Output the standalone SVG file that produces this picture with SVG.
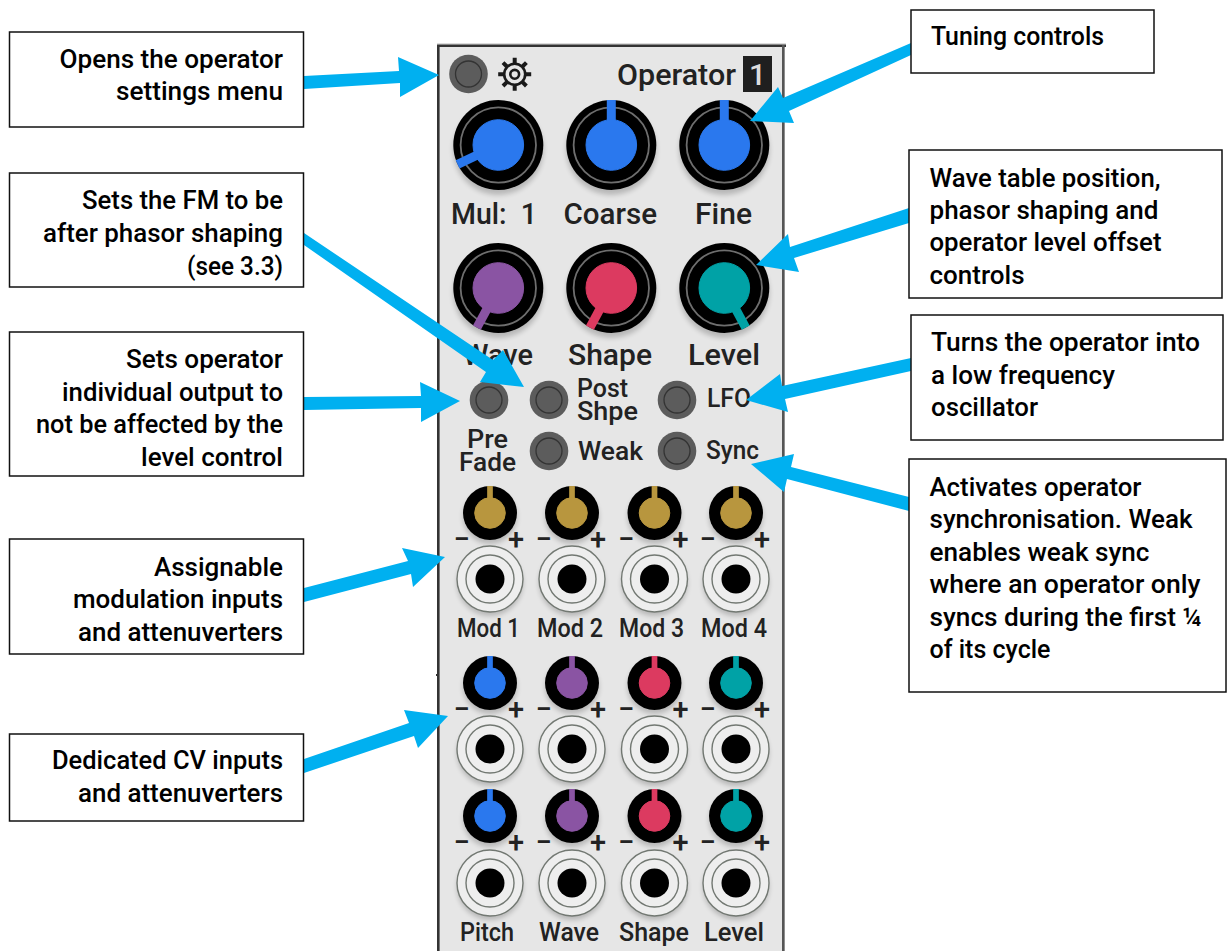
<svg xmlns="http://www.w3.org/2000/svg" width="1227" height="951" viewBox="0 0 1227 951">
<style>
text{font-family:Roboto,"Liberation Sans",sans-serif;font-weight:500}
.c{font-size:26px;fill:#000}
.p{font-size:30px;fill:#222}
.q{font-size:25px;fill:#222}
.s{font-size:29px;fill:#222;text-anchor:middle}
.m{text-anchor:middle}
.e{text-anchor:end}
.box{fill:#fff;stroke:#111;stroke-width:1.5}
.arrow{fill:#00b0f0}
.ring{fill:none;stroke:#6e6e6e;stroke-width:1.8}
.sh{fill:#000;opacity:.2;filter:url(#b)}
.j1{fill:#eeeeee;stroke:#727872;stroke-width:1.4}
.j2{fill:none;stroke:#727872;stroke-width:1.4}
.btn{fill:#5c5c5c}
.bi{fill:none;stroke:#333;stroke-width:1.3}
.blue{fill:#2a78ee;stroke:#2a78ee}
.purple{fill:#8a54a3;stroke:#8a54a3}
.red{fill:#dc3a60;stroke:#dc3a60}
.teal{fill:#00a2a6;stroke:#00a2a6}
.gold{fill:#b8963e;stroke:#b8963e}
</style>
<defs>
<filter id="b" x="-30%" y="-30%" width="160%" height="160%"><feGaussianBlur stdDeviation="2.5"/></filter>
<g id="big"><circle class="sh" cy="5" r="45"/><circle r="45"/><circle class="ring" r="37.7"/></g>
<g id="small"><circle class="sh" cy="4" r="27"/><circle r="27"/></g>
<g id="jack"><circle class="sh" cy="4" r="33"/><circle class="j1" r="33"/><circle class="j2" r="24"/><circle r="14.5"/></g>
<g id="button"><circle class="btn" r="19.3"/><circle class="bi" r="13"/></g>
</defs>

<g id="panel">
<rect x="438" y="43" width="347" height="908" fill="#e6e6e6"/>
<rect x="437" y="43" width="349" height="1.5" fill="#dcdcdc"/>
<rect x="437" y="44.5" width="349" height="2.5" fill="#333"/>
<rect x="437" y="45" width="2.6" height="906" fill="#333"/>
<rect x="782" y="45" width="2.6" height="906" fill="#555"/>
<rect x="436" y="674" width="2" height="2" fill="#333"/>
</g>

<g id="header">
<use href="#button" x="468.5" y="74"/>
<g id="gear" transform="translate(514.7 74.3)" fill="none" stroke="#1a1a1a">
<circle r="10.5" stroke-width="2.6"/><circle r="4.4" stroke-width="2.6"/>
<path stroke-width="4" d="M0-16.5V-11M0 16.5V11M-16.5 0H-11M16.5 0H11M-11.7-11.7L-7.8-7.8M11.7-11.7L7.8-7.8M-11.7 11.7L-7.8 7.8M11.7 11.7L7.8 7.8"/>
</g>
<text class="p" x="617" y="85" textLength="119" lengthAdjust="spacingAndGlyphs">Operator</text>
<rect x="743" y="56" width="29" height="36" fill="#1f1f1f"/>
<text class="p m" x="757.5" y="85" style="fill:#ddd">1</text>
</g>

<g id="knob-mul"><use href="#big" x="498.3" y="145"/><path class="blue" stroke-width="9" d="M498.3 145L457.6 164.4"/><circle class="blue" stroke="none" cx="498.3" cy="145" r="25.3"/><text class="p" x="451" y="224" textLength="86" lengthAdjust="spacingAndGlyphs" xml:space="preserve">Mul:  1</text></g>
<g id="knob-coarse"><use href="#big" x="611.3" y="145"/><path class="blue" stroke-width="9" d="M611.3 145V100"/><circle class="blue" cx="611.3" cy="145" r="25.3"/><text class="p" x="563.5" y="224" textLength="93.500" lengthAdjust="spacingAndGlyphs">Coarse</text></g>
<g id="knob-fine"><use href="#big" x="724.3" y="145"/><path class="blue" stroke-width="9" d="M724.3 145V100"/><circle class="blue" cx="724.3" cy="145" r="25.3"/><text class="p" x="695" y="224" textLength="57" lengthAdjust="spacingAndGlyphs">Fine</text></g>

<g id="knob-wave"><use href="#big" x="498.3" y="288"/><path class="purple" stroke-width="9" d="M498.3 288L476.9 327.600"/><circle class="purple" cx="498.3" cy="288" r="25.3"/><text class="p" x="463" y="365" textLength="70" lengthAdjust="spacingAndGlyphs">Wave</text></g>
<g id="knob-shape"><use href="#big" x="611.3" y="288"/><path class="red" stroke-width="9" d="M611.3 288L589.9 327.600"/><circle class="red" cx="611.3" cy="288" r="25.3"/><text class="p" x="568" y="365" textLength="84" lengthAdjust="spacingAndGlyphs">Shape</text></g>
<g id="knob-level"><use href="#big" x="724.3" y="288"/><path class="teal" stroke-width="9" d="M724.3 288L745.7 327.600"/><circle class="teal" cx="724.3" cy="288" r="25.3"/><text class="p" x="688" y="365" textLength="72" lengthAdjust="spacingAndGlyphs">Level</text></g>

<g id="btn-prefade"><use href="#button" x="489" y="400"/><text class="q" x="467" y="448" textLength="41" lengthAdjust="spacingAndGlyphs">Pre</text><text class="q" x="459" y="471" textLength="57" lengthAdjust="spacingAndGlyphs">Fade</text></g>
<g id="btn-post"><use href="#button" x="549" y="400"/><text class="q" x="577" y="397" textLength="51" lengthAdjust="spacingAndGlyphs">Post</text><text class="q" x="577" y="420" textLength="61" lengthAdjust="spacingAndGlyphs">Shpe</text></g>
<g id="btn-lfo"><use href="#button" x="677" y="400"/><text class="q" x="707" y="407" textLength="44" lengthAdjust="spacingAndGlyphs">LFO</text></g>
<g id="btn-weak"><use href="#button" x="549" y="451"/><text class="q" x="578" y="460" textLength="65" lengthAdjust="spacingAndGlyphs">Weak</text></g>
<g id="btn-sync"><use href="#button" x="677" y="451"/><text class="q" x="706" y="459" textLength="53" lengthAdjust="spacingAndGlyphs">Sync</text></g>

<g id="mod1"><use href="#small" x="490" y="513"/><path class="gold" stroke-width="5.7" d="M490 513V486"/><circle class="gold" cx="490" cy="513" r="15.3"/><text class="s" x="462" y="549">−</text><text class="s" x="516" y="549">+</text><use href="#jack" x="490" y="579"/><text class="q" x="457" y="637" textLength="63" lengthAdjust="spacingAndGlyphs">Mod 1</text></g>
<g id="mod2"><use href="#small" x="572" y="513"/><path class="gold" stroke-width="5.7" d="M572 513V486"/><circle class="gold" cx="572" cy="513" r="15.3"/><text class="s" x="544" y="549">−</text><text class="s" x="598" y="549">+</text><use href="#jack" x="572" y="579"/><text class="q" x="537" y="637" textLength="66" lengthAdjust="spacingAndGlyphs">Mod 2</text></g>
<g id="mod3"><use href="#small" x="654.500" y="513"/><path class="gold" stroke-width="5.7" d="M654.500 513V486"/><circle class="gold" cx="654.500" cy="513" r="15.3"/><text class="s" x="626.500" y="549">−</text><text class="s" x="680.500" y="549">+</text><use href="#jack" x="654.500" y="579"/><text class="q" x="619" y="637" textLength="65" lengthAdjust="spacingAndGlyphs">Mod 3</text></g>
<g id="mod4"><use href="#small" x="736" y="513"/><path class="gold" stroke-width="5.7" d="M736 513V486"/><circle class="gold" cx="736" cy="513" r="15.3"/><text class="s" x="708" y="549">−</text><text class="s" x="762" y="549">+</text><use href="#jack" x="736" y="579"/><text class="q" x="701" y="637" textLength="66" lengthAdjust="spacingAndGlyphs">Mod 4</text></g>

<g id="cv-a1"><use href="#small" x="490" y="683"/><path class="blue" stroke-width="5.7" d="M490 683V656"/><circle class="blue" cx="490" cy="683" r="15.3"/><text class="s" x="462" y="719">−</text><text class="s" x="516" y="719">+</text><use href="#jack" x="490" y="749"/></g>
<g id="cv-a2"><use href="#small" x="572" y="683"/><path class="purple" stroke-width="5.7" d="M572 683V656"/><circle class="purple" cx="572" cy="683" r="15.3"/><text class="s" x="544" y="719">−</text><text class="s" x="598" y="719">+</text><use href="#jack" x="572" y="749"/></g>
<g id="cv-a3"><use href="#small" x="654.500" y="683"/><path class="red" stroke-width="5.7" d="M654.500 683V656"/><circle class="red" cx="654.500" cy="683" r="15.3"/><text class="s" x="626.500" y="719">−</text><text class="s" x="680.500" y="719">+</text><use href="#jack" x="654.500" y="749"/></g>
<g id="cv-a4"><use href="#small" x="736" y="683"/><path class="teal" stroke-width="5.7" d="M736 683V656"/><circle class="teal" cx="736" cy="683" r="15.3"/><text class="s" x="708" y="719">−</text><text class="s" x="762" y="719">+</text><use href="#jack" x="736" y="749"/></g>

<g id="cv-b1"><use href="#small" x="490" y="816"/><path class="blue" stroke-width="5.7" d="M490 816V789"/><circle class="blue" cx="490" cy="816" r="15.3"/><text class="s" x="462" y="852">−</text><text class="s" x="516" y="852">+</text><use href="#jack" x="490" y="883"/><text class="q" x="460" y="941" textLength="54" lengthAdjust="spacingAndGlyphs">Pitch</text></g>
<g id="cv-b2"><use href="#small" x="572" y="816"/><path class="purple" stroke-width="5.7" d="M572 816V789"/><circle class="purple" cx="572" cy="816" r="15.3"/><text class="s" x="544" y="852">−</text><text class="s" x="598" y="852">+</text><use href="#jack" x="572" y="883"/><text class="q" x="539" y="941" textLength="60" lengthAdjust="spacingAndGlyphs">Wave</text></g>
<g id="cv-b3"><use href="#small" x="654.500" y="816"/><path class="red" stroke-width="5.7" d="M654.500 816V789"/><circle class="red" cx="654.500" cy="816" r="15.3"/><text class="s" x="626.500" y="852">−</text><text class="s" x="680.500" y="852">+</text><use href="#jack" x="654.500" y="883"/><text class="q" x="619" y="941" textLength="70" lengthAdjust="spacingAndGlyphs">Shape</text></g>
<g id="cv-b4"><use href="#small" x="736" y="816"/><path class="teal" stroke-width="5.7" d="M736 816V789"/><circle class="teal" cx="736" cy="816" r="15.3"/><text class="s" x="708" y="852">−</text><text class="s" x="762" y="852">+</text><use href="#jack" x="736" y="883"/><text class="q" x="704" y="941" textLength="60" lengthAdjust="spacingAndGlyphs">Level</text></g>

<g id="connectors">
<polygon class="arrow" points="304,76 399,71 398,57 439,75 400,97 400,83 304,89"/>
<polygon class="arrow" points="304,233 493,360 503,350 524,387 480,382 486,372 304,245"/>
<polygon class="arrow" points="304,397 421,396 420,382 460,401 421,422 421,408 304,410"/>
<polygon class="arrow" points="304,588 408,561 402,548 445,557 413,587 411,574 304,602"/>
<polygon class="arrow" points="304,759 409,723 404,710 448,716 418,748 414,736 304,773"/>
<polygon class="arrow" points="911,43 783,98 778,87 750,121 794,123 789,111 911,55"/>
<polygon class="arrow" points="909,208 790,247 788,234 756,265 799,272 794,258 909,223"/>
<polygon class="arrow" points="911,358 782,386 780,374 746,400 788,412 785,399 911,371"/>
<polygon class="arrow" points="909,497 791,467 794,454 751,464 784,492 787,479 909,511"/>
</g>

<g id="note-settings"><rect class="box" x="9.500" y="32" width="294" height="95"/>
<text class="c e" x="283" y="68" textLength="223.500" lengthAdjust="spacingAndGlyphs">Opens the operator</text>
<text class="c e" x="283" y="100" textLength="167" lengthAdjust="spacingAndGlyphs">settings menu</text></g>
<g id="note-fm"><rect class="box" x="9.500" y="173" width="294" height="114"/>
<text class="c e" x="283" y="209" textLength="201" lengthAdjust="spacingAndGlyphs">Sets the FM to be</text>
<text class="c e" x="283" y="242" textLength="240" lengthAdjust="spacingAndGlyphs">after phasor shaping</text>
<text class="c e" x="283" y="275" textLength="96" lengthAdjust="spacingAndGlyphs">(see 3.3)</text></g>
<g id="note-prefade"><rect class="box" x="9.500" y="332" width="294" height="144"/>
<text class="c e" x="283" y="368" textLength="157" lengthAdjust="spacingAndGlyphs">Sets operator</text>
<text class="c e" x="283" y="401" textLength="221" lengthAdjust="spacingAndGlyphs">individual output to</text>
<text class="c e" x="283" y="433" textLength="247" lengthAdjust="spacingAndGlyphs">not be affected by the</text>
<text class="c e" x="283" y="466" textLength="142" lengthAdjust="spacingAndGlyphs">level control</text></g>
<g id="note-mod"><rect class="box" x="9.500" y="539" width="294" height="115"/>
<text class="c e" x="283" y="576" textLength="129" lengthAdjust="spacingAndGlyphs">Assignable</text>
<text class="c e" x="283" y="608" textLength="210" lengthAdjust="spacingAndGlyphs">modulation inputs</text>
<text class="c e" x="283" y="641" textLength="205" lengthAdjust="spacingAndGlyphs">and attenuverters</text></g>
<g id="note-cv"><rect class="box" x="9.500" y="734" width="294" height="87"/>
<text class="c e" x="283" y="769" textLength="231" lengthAdjust="spacingAndGlyphs">Dedicated CV inputs</text>
<text class="c e" x="283" y="802" textLength="205" lengthAdjust="spacingAndGlyphs">and attenuverters</text></g>
<g id="note-tuning"><rect class="box" x="911" y="10" width="243" height="63"/>
<text class="c" x="931" y="45" textLength="173" lengthAdjust="spacingAndGlyphs">Tuning controls</text></g>
<g id="note-wave"><rect class="box" x="909" y="150" width="313" height="148"/>
<text class="c" x="929.500" y="187" textLength="231" lengthAdjust="spacingAndGlyphs">Wave table position,</text>
<text class="c" x="929.500" y="219" textLength="229" lengthAdjust="spacingAndGlyphs">phasor shaping and</text>
<text class="c" x="929.500" y="251" textLength="232" lengthAdjust="spacingAndGlyphs">operator level offset</text>
<text class="c" x="929.500" y="284" textLength="95" lengthAdjust="spacingAndGlyphs">controls</text></g>
<g id="note-lfo"><rect class="box" x="911" y="315" width="312" height="125"/>
<text class="c" x="931" y="351" textLength="269" lengthAdjust="spacingAndGlyphs">Turns the operator into</text>
<text class="c" x="931" y="384" textLength="184" lengthAdjust="spacingAndGlyphs">a low frequency</text>
<text class="c" x="931" y="416" textLength="107" lengthAdjust="spacingAndGlyphs">oscillator</text></g>
<g id="note-sync"><rect class="box" x="909" y="459" width="317" height="233"/>
<text class="c" x="929.500" y="496" textLength="212" lengthAdjust="spacingAndGlyphs">Activates operator</text>
<text class="c" x="929.500" y="528" textLength="263" lengthAdjust="spacingAndGlyphs">synchronisation. Weak</text>
<text class="c" x="929.500" y="561" textLength="220" lengthAdjust="spacingAndGlyphs">enables weak sync</text>
<text class="c" x="929.500" y="593" textLength="271" lengthAdjust="spacingAndGlyphs">where an operator only</text>
<text class="c" x="929.500" y="626" textLength="272" lengthAdjust="spacingAndGlyphs">syncs during the first ¼</text>
<text class="c" x="929.500" y="658" textLength="121" lengthAdjust="spacingAndGlyphs">of its cycle</text></g>
</svg>
